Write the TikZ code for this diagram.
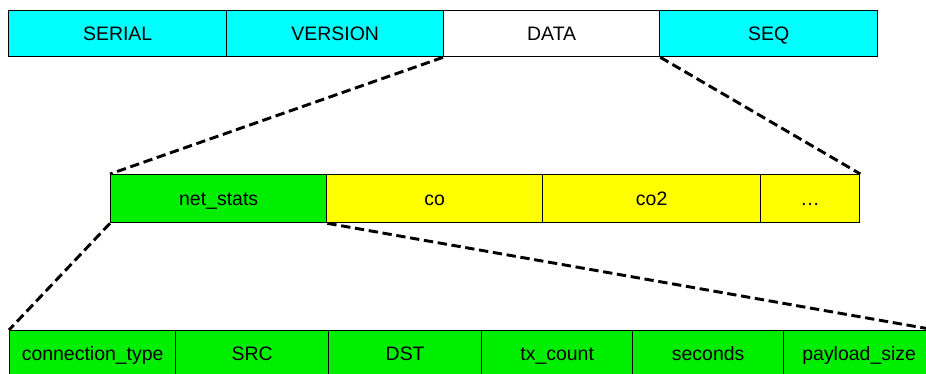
\documentclass[tikz,border=0pt]{standalone}
\usepackage{fontspec}
\setmainfont{Liberation Sans}
\definecolor{hdrcyan}{RGB}{0,255,255}
\definecolor{fieldgreen}{RGB}{0,238,0}
\definecolor{fieldyellow}{RGB}{255,255,0}
\begin{document}
\begin{tikzpicture}[x=0.75pt,y=-0.75pt,
  field/.style={draw=black, line width=1pt, minimum width=#1*0.75pt,
    minimum height=46*0.75pt, inner sep=0pt, anchor=north west,
    text height=12pt, text depth=1.5pt,
    font=\fontsize{14.6pt}{16pt}\selectfont},
  header/.style={field=#1, fill=hdrcyan},
  payload/.style={field=#1, fill=fieldyellow, minimum height=48*0.75pt},
  stat/.style={field=#1, fill=fieldgreen},
  zoomline/.style={draw=black, line width=2.2pt, dash pattern=on 7pt off 3.5pt}]
\clip (0,0) rectangle (926,374);
\fill[white] (0,0) rectangle (926,374);

% packet header
\node[header=218] (serial) at (8,10) {SERIAL};
\node[header=217] (version) at (226,10) {VERSION};
\node[field=216, fill=white] (data) at (443,10) {DATA};
\node[header=218] (seq) at (659,10) {SEQ};

% data payload
\node[payload=216, fill=fieldgreen] (netstats) at (110,174) {net\_stats};
\node[payload=216] (co) at (326,174) {co};
\node[payload=218] (co2) at (542,174) {co2};
\node[payload=99] (more) at (760,174) {…};

% net_stats fields
\node[stat=166] (ctype) at (9,330) {connection\_type};
\node[stat=153] (src) at (175,330) {SRC};
\node[stat=153] (dst) at (328,330) {DST};
\node[stat=151] (tx) at (481,330) {tx\_count};
\node[stat=151] (secs) at (632,330) {seconds};
\node[stat=151] (psize) at (783,330) {payload\_size};

% zoom guides
\draw[zoomline] (data.south west) -- (netstats.north west);
\draw[zoomline] (data.south east) -- (more.north east);
\draw[zoomline] (netstats.south west) -- (ctype.north west);
\draw[zoomline] (netstats.south east) -- (psize.north east);
\end{tikzpicture}
\end{document}
